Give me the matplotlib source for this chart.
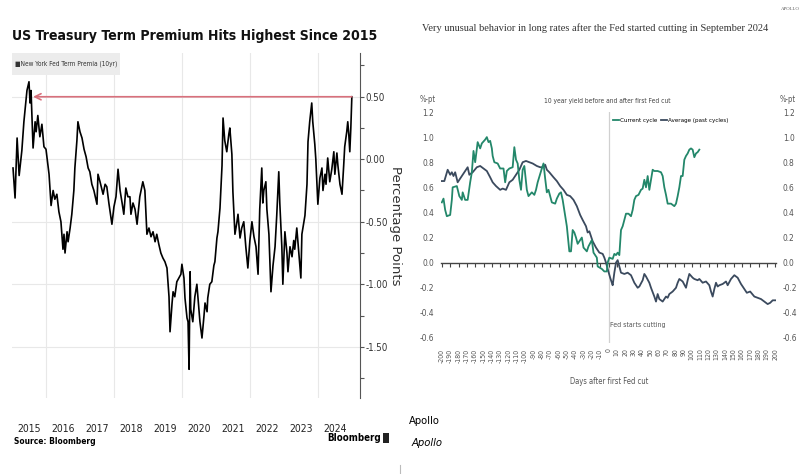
import numpy as np
import matplotlib
matplotlib.use('Agg')
import matplotlib.pyplot as plt
from matplotlib import font_manager as fm
from matplotlib.patches import Rectangle
from matplotlib.lines import Line2D

# --- left panel: NY Fed 10yr term premium (decimal year, %-pts) ---
tp_dates = [2015.03, 2015.09, 2015.15, 2015.21, 2015.29, 2015.35, 2015.44, 2015.50, 2015.53, 2015.56,
            2015.62, 2015.68, 2015.71, 2015.76, 2015.82, 2015.88, 2015.94, 2016.00, 2016.06, 2016.09,
            2016.15, 2016.21, 2016.26, 2016.32, 2016.38, 2016.44, 2016.50, 2016.53, 2016.56, 2016.62,
            2016.65, 2016.71, 2016.76, 2016.82, 2016.85, 2016.91, 2016.94, 2017.00, 2017.06, 2017.12,
            2017.18, 2017.24, 2017.29, 2017.35, 2017.41, 2017.50, 2017.53, 2017.59, 2017.68, 2017.74,
            2017.79, 2017.85, 2017.94, 2018.00, 2018.06, 2018.12, 2018.18, 2018.24, 2018.29, 2018.35,
            2018.41, 2018.47, 2018.50, 2018.56, 2018.62, 2018.68, 2018.76, 2018.85, 2018.91, 2018.97,
            2019.03, 2019.09, 2019.15, 2019.21, 2019.26, 2019.32, 2019.38, 2019.44, 2019.50, 2019.56,
            2019.62, 2019.65, 2019.71, 2019.74, 2019.79, 2019.85, 2019.91, 2019.97, 2020.00, 2020.06,
            2020.09, 2020.15, 2020.18, 2020.21, 2020.24, 2020.26, 2020.32, 2020.38, 2020.44, 2020.50,
            2020.53, 2020.59, 2020.65, 2020.68, 2020.74, 2020.76, 2020.82, 2020.88, 2020.94, 2020.97,
            2021.03, 2021.06, 2021.12, 2021.18, 2021.21, 2021.26, 2021.32, 2021.38, 2021.41, 2021.47,
            2021.50, 2021.56, 2021.62, 2021.65, 2021.71, 2021.76, 2021.82, 2021.88, 2021.94, 2022.00,
            2022.06, 2022.12, 2022.18, 2022.24, 2022.29, 2022.35, 2022.38, 2022.41, 2022.47, 2022.50,
            2022.56, 2022.62, 2022.68, 2022.74, 2022.79, 2022.85, 2022.88, 2022.94, 2022.97, 2023.03,
            2023.09, 2023.12, 2023.18, 2023.24, 2023.29, 2023.32, 2023.38, 2023.44, 2023.50, 2023.53,
            2023.56, 2023.62, 2023.68, 2023.71, 2023.76, 2023.82, 2023.85, 2023.91, 2023.94, 2024.00,
            2024.06, 2024.12, 2024.15, 2024.21, 2024.24, 2024.29, 2024.35, 2024.41, 2024.47, 2024.50,
            2024.56, 2024.59, 2024.65, 2024.71, 2024.74, 2024.76, 2024.79, 2024.85, 2024.88, 2024.91,
            2024.94, 2024.97, 2025.00]
tp_values = [-0.07, -0.31, 0.17, -0.13, 0.07, 0.30, 0.55, 0.62, 0.45, 0.55,
             0.09, 0.30, 0.22, 0.35, 0.18, 0.28, 0.10, 0.08, -0.05, -0.12,
             -0.37, -0.25, -0.32, -0.28, -0.42, -0.50, -0.72, -0.60, -0.75, -0.58,
             -0.66, -0.55, -0.44, -0.25, -0.07, 0.15, 0.30, 0.22, 0.17, 0.08,
             0.02, -0.07, -0.10, -0.20, -0.25, -0.36, -0.12, -0.18, -0.28, -0.20,
             -0.22, -0.35, -0.52, -0.38, -0.30, -0.08, -0.25, -0.35, -0.44, -0.23,
             -0.30, -0.30, -0.44, -0.35, -0.40, -0.52, -0.30, -0.18, -0.25, -0.60,
             -0.55, -0.62, -0.58, -0.66, -0.60, -0.68, -0.75, -0.79, -0.82, -0.87,
             -1.10, -1.38, -1.15, -1.06, -1.10, -0.98, -0.95, -0.92, -0.84, -0.95,
             -1.11, -1.27, -1.30, -1.68, -0.90, -1.20, -1.30, -1.10, -1.00, -1.20,
             -1.30, -1.43, -1.25, -1.15, -1.22, -1.11, -1.00, -0.98, -0.85, -0.82,
             -0.63, -0.58, -0.39, -0.05, 0.33, 0.15, 0.06, 0.20, 0.25, 0.04,
             -0.26, -0.60, -0.50, -0.44, -0.63, -0.55, -0.50, -0.70, -0.87, -0.65,
             -0.50, -0.62, -0.70, -0.92, -0.40, -0.07, -0.35, -0.25, -0.18, -0.40,
             -0.60, -1.06, -0.85, -0.70, -0.45, -0.10, -0.35, -0.70, -1.00, -0.58,
             -0.75, -0.90, -0.70, -0.78, -0.65, -0.72, -0.55, -0.75, -0.95, -0.60,
             -0.55, -0.45, -0.20, 0.14, 0.30, 0.45, 0.30, 0.12, 0.00, -0.36,
             -0.15, -0.07, -0.25, -0.12, -0.20, 0.01, -0.18, -0.08, 0.06, -0.12,
             0.05, -0.05, -0.20, -0.28, -0.15, -0.05, 0.10, 0.22, 0.30, 0.20,
             0.06, 0.25, 0.50]
tp_years = list(range(2015, 2025))
tp_yticks = [0.5, 0.0, -0.5, -1.0, -1.5]

# --- right panel: 10y yield change around the first Fed cut (%-pt) ---
cur_days = [-200, -198, -196, -194, -190, -188, -187, -182, -179, -176, -175, -172, -169, -166, -164,
            -162, -160, -157, -154, -152, -148, -146, -144, -142, -140, -139, -137, -133, -130, -126,
            -124, -122, -119, -115, -113, -111, -109, -107, -105, -103, -101, -98, -96, -92, -89,
            -87, -85, -80, -78, -76, -74, -72, -68, -64, -62, -59, -57, -55, -50, -47,
            -45, -43, -41, -39, -37, -32, -30, -26, -24, -20, -18, -14, -13, -8, -5,
            -2, -1, 1, 5, 7, 9, 11, 13, 15, 17, 19, 21, 24, 27, 29,
            31, 33, 36, 39, 41, 43, 45, 47, 49, 51, 53, 55, 59, 63, 65,
            67, 69, 71, 75, 79, 81, 83, 85, 87, 89, 91, 93, 95, 97, 99,
            101, 103, 105, 107, 109]
cur_vals = [0.48, 0.51, 0.42, 0.37, 0.38, 0.50, 0.60, 0.61, 0.53, 0.50, 0.56, 0.50, 0.50, 0.64, 0.72,
            0.89, 0.80, 0.96, 0.91, 0.95, 0.98, 1.00, 0.96, 0.97, 0.91, 0.85, 0.80, 0.79, 0.75, 0.75,
            0.64, 0.73, 0.75, 0.76, 0.92, 0.82, 0.79, 0.66, 0.58, 0.74, 0.77, 0.58, 0.53, 0.56, 0.54,
            0.58, 0.64, 0.75, 0.79, 0.67, 0.56, 0.58, 0.48, 0.47, 0.51, 0.55, 0.56, 0.50, 0.29, 0.09,
            0.09, 0.26, 0.24, 0.20, 0.15, 0.20, 0.12, 0.09, 0.13, 0.18, 0.08, 0.04, -0.03, -0.05, -0.07,
            -0.07, 0.00, 0.04, 0.03, 0.07, 0.06, 0.08, 0.06, 0.26, 0.29, 0.34, 0.39, 0.39, 0.37, 0.42,
            0.50, 0.53, 0.54, 0.58, 0.59, 0.66, 0.60, 0.69, 0.58, 0.66, 0.74, 0.73, 0.73, 0.72, 0.69,
            0.60, 0.54, 0.47, 0.47, 0.45, 0.47, 0.53, 0.60, 0.69, 0.69, 0.82, 0.85, 0.87, 0.90, 0.91,
            0.90, 0.84, 0.87, 0.88, 0.90]
avg_days = [-200, -197, -193, -190, -188, -186, -184, -181, -177, -172, -169, -167, -163, -158, -154,
            -150, -146, -142, -139, -135, -130, -127, -123, -119, -115, -111, -107, -103, -99, -95,
            -91, -86, -82, -78, -76, -74, -71, -66, -62, -58, -54, -50, -46, -42, -38,
            -34, -31, -27, -25, -23, -19, -15, -11, -7, -5, -3, -1, 2, 4, 5,
            7, 9, 11, 13, 15, 19, 23, 27, 31, 35, 37, 41, 43, 45, 49,
            51, 55, 57, 59, 61, 65, 67, 69, 71, 73, 77, 81, 83, 85, 87,
            89, 93, 95, 97, 101, 103, 107, 109, 113, 117, 121, 123, 125, 127, 129,
            131, 133, 137, 141, 143, 147, 151, 155, 159, 163, 166, 170, 175, 179, 183,
            187, 191, 194, 197, 200]
avg_vals = [0.65, 0.65, 0.74, 0.70, 0.72, 0.69, 0.72, 0.64, 0.68, 0.73, 0.76, 0.70, 0.72, 0.76, 0.77,
            0.75, 0.73, 0.68, 0.64, 0.61, 0.58, 0.59, 0.58, 0.64, 0.66, 0.70, 0.74, 0.80, 0.81, 0.80,
            0.79, 0.77, 0.76, 0.76, 0.78, 0.74, 0.72, 0.68, 0.65, 0.61, 0.58, 0.54, 0.53, 0.50, 0.45,
            0.38, 0.34, 0.29, 0.24, 0.25, 0.17, 0.12, 0.08, 0.07, 0.04, 0.00, -0.05, -0.12, -0.16, -0.18,
            -0.08, 0.00, 0.02, -0.03, -0.08, -0.09, -0.08, -0.10, -0.16, -0.20, -0.19, -0.14, -0.09, -0.11, -0.16,
            -0.20, -0.27, -0.31, -0.25, -0.29, -0.31, -0.29, -0.27, -0.28, -0.25, -0.23, -0.20, -0.16, -0.13, -0.14,
            -0.15, -0.20, -0.14, -0.09, -0.12, -0.13, -0.14, -0.13, -0.16, -0.15, -0.18, -0.23, -0.27, -0.21, -0.16,
            -0.19, -0.18, -0.17, -0.15, -0.18, -0.13, -0.10, -0.12, -0.17, -0.21, -0.24, -0.23, -0.27, -0.28, -0.29,
            -0.31, -0.33, -0.32, -0.30, -0.30]
day_ticks = list(range(-200, 201, 10))
pt_ticks = [1.2, 1.0, 0.8, 0.6, 0.4, 0.2, 0.0, -0.2, -0.4, -0.6]

# pick the narrowest sans that is installed
fonts = fm.fontManager.ttflist
if any(f.name == 'Liberation Sans Narrow' for f in fonts):
    NARROW = dict(family='Liberation Sans Narrow', stretch='normal')
elif any(f.name == 'DejaVu Sans' and 'condensed' in str(f.stretch) for f in fonts):
    NARROW = dict(family='DejaVu Sans', stretch='condensed')
else:
    NARROW = dict(family='Liberation Sans', stretch='normal')
SERIF = ['Liberation Serif', 'DejaVu Serif']

W, H = 800, 474
fig = plt.figure(figsize=(8, 4.74), dpi=100)
renderer = fig.canvas.get_renderer()


def fx(px):
    return px / W


def fy(py):
    return 1 - py / H


def fit(t, px):
    # scale a text's size so it spans px pixels
    w = t.get_window_extent(renderer).width
    t.set_fontsize(t.get_fontsize() * px / w)
    return t


# ---------------- left: Bloomberg chart ----------------
ax1 = fig.add_axes([fx(12), fy(398), fx(348), 345 / H])
ax1.plot(tp_dates, tp_values, color='black', lw=1.2, zorder=3)
ax1.set_xlim(2015.0, 2025.24)
ax1.set_ylim(-1.91, 0.85)

for s in ['top', 'left', 'bottom']:
    ax1.spines[s].set_visible(False)
ax1.spines['right'].set_color('#555555')
ax1.spines['right'].set_linewidth(0.8)

ax1.yaxis.tick_right()
ax1.set_yticks(tp_yticks, labels=['%.2f' % v for v in tp_yticks], **NARROW)
ax1.set_yticks([v - 0.25 for v in tp_yticks] + [0.75], minor=True)
ax1.tick_params(axis='y', which='both', direction='out', length=3, width=0.8,
                color='#555555', labelsize=7, labelcolor='#333333', pad=1)
ax1.grid(axis='y', color='#e8e8e8', lw=0.8, zorder=0)
for yr in tp_years[1::2]:
    ax1.axvline(yr, color='#e8e8e8', lw=0.8, zorder=0)

ax1.set_xticks([y + 0.5 for y in tp_years], labels=[str(y) for y in tp_years], **NARROW)
ax1.tick_params(axis='x', length=0, pad=19, labelsize=7.5, labelcolor='#222222')

ax1.yaxis.set_label_position('right')
ax1.set_ylabel('Percentage Points', rotation=270, fontsize=9.5, color='#333333', labelpad=10)

# legend box
ax1.add_patch(Rectangle((0, 1 - 22 / 345), 108 / 348, 22 / 345, transform=ax1.transAxes,
                        facecolor='#ececec', edgecolor='none', zorder=2))
leg1 = ax1.text(3 / 348, 1 - 11 / 345, '■New York Fed Term Premia (10yr)', transform=ax1.transAxes,
                fontsize=5.5, va='center', ha='left', color='#333333', zorder=4, **NARROW)
fit(leg1, 102)

# arrow from the latest reading back to the 2015 peak
peak_date = tp_dates[int(np.argmax(tp_values))]
ax1.annotate('', xy=(peak_date + 0.12, tp_values[-1]), xytext=(tp_dates[-1], tp_values[-1]),
             arrowprops=dict(arrowstyle='->', color='#d8707c', lw=1.2, mutation_scale=11,
                             shrinkA=0, shrinkB=0), zorder=4)

t = fig.text(fx(12), fy(36), 'US Treasury Term Premium Hits Highest Since 2015', fontsize=14,
             fontweight='bold', va='center', ha='left', color='#111111', **NARROW)
fit(t, 368)
fig.text(fx(14), fy(441), 'Source: Bloomberg', fontsize=6, fontweight='bold',
         va='center', ha='left', **NARROW)
fig.text(fx(381), fy(438), 'Bloomberg', fontsize=7, fontweight='bold',
         va='center', ha='right', **NARROW)
fig.add_artist(Rectangle((fx(383), fy(443)), 6 / W, 10 / H, transform=fig.transFigure,
                         facecolor='#222222', edgecolor='none'))

fig.text(fx(409), fy(421), 'Apollo', fontsize=8, va='center', ha='left', **NARROW)
fig.text(fx(412), fy(443), 'Apollo', fontsize=8, style='italic', va='center', ha='left', **NARROW)
fig.add_artist(Line2D([fx(400), fx(400)], [fy(465), 0], transform=fig.transFigure,
                      color='#bbbbbb', lw=0.8))

# ---------------- right: Apollo chart ----------------
ax2 = fig.add_axes([fx(441), fy(343), fx(335), 231 / H])
l_avg, = ax2.plot(avg_days, avg_vals, color='#3b4a5e', lw=1.3, zorder=3)
l_cur, = ax2.plot(cur_days, cur_vals, color='#23876a', lw=1.3, zorder=4)
ax2.set_xlim(-201, 201)
ax2.set_ylim(-0.64, 1.2)
ax2.axvline(0, color='#d0d0d0', lw=0.9, zorder=1)

for s in ['top', 'left', 'right']:
    ax2.spines[s].set_visible(False)
ax2.spines['bottom'].set_position(('data', 0))
ax2.spines['bottom'].set_color('#444444')
ax2.spines['bottom'].set_linewidth(1.0)
ax2.set_xticks(day_ticks, labels=[])
ax2.tick_params(axis='x', direction='out', length=3, width=0.8, color='#444444')

ax2.set_yticks(pt_ticks, labels=['%.1f' % v for v in pt_ticks], **NARROW)
ax2.tick_params(axis='y', length=0, labelsize=6, labelcolor='#555555', pad=5,
                labelleft=True, labelright=True)

sec = ax2.secondary_xaxis(0)
sec.set_xticks(day_ticks, labels=[str(d) for d in day_ticks], rotation=90, **NARROW)
sec.tick_params(length=0, pad=4, labelsize=5, labelcolor='#555555')
for s in sec.spines.values():
    s.set_visible(False)

ax2.text(2, -0.5, 'Fed starts cutting', fontsize=5, color='#555555',
         va='center', ha='left', **NARROW)
ax2.legend([l_cur, l_avg], ['Current cycle', 'Average (past cycles)'], loc='upper left',
           bbox_to_anchor=((613 - 441) / 335, 1 - 6 / 231), frameon=False, ncol=2,
           handlelength=0.9, handletextpad=0.15, columnspacing=0.7,
           borderaxespad=0, borderpad=0,
           prop=fm.FontProperties(family=NARROW['family'], stretch=NARROW['stretch'], size=4.5))

t = fig.text(fx(607), fy(101), '10 year yield before and after first Fed cut', fontsize=6.5,
             ha='center', va='center', color='#444444', **NARROW)
fit(t, 128)
fig.text(fx(428), fy(99), '%-pt', fontsize=5.5, ha='center', va='center', color='#555555', **NARROW)
fig.text(fx(788), fy(99), '%-pt', fontsize=5.5, ha='center', va='center', color='#555555', **NARROW)
fig.text(fx(609), fy(381), 'Days after first Fed cut', fontsize=5.5,
         ha='center', va='center', color='#555555', **NARROW)

t = fig.text(fx(595), fy(28), 'Very unusual behavior in long rates after the Fed started cutting in September 2024',
             fontsize=8, family=SERIF, ha='center', va='center', color='#333333')
fit(t, 346)
fig.text(fx(790), fy(9), 'APOLLO', fontsize=3.5, family=SERIF,
         ha='center', va='center', color='#555555')

fig.savefig('out.png', dpi=100)
